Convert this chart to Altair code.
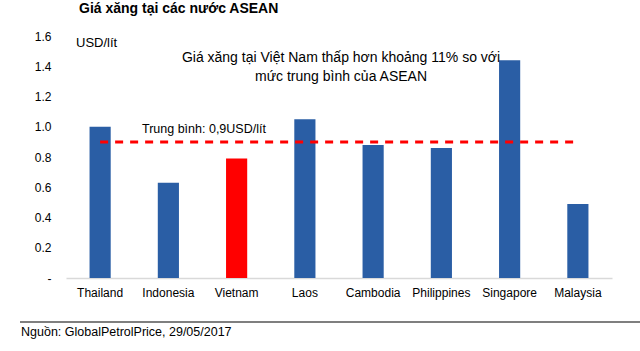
import altair as alt
import pandas as pd

countries = ["Thailand", "Indonesia", "Vietnam", "Laos", "Cambodia", "Philippines", "Singapore", "Malaysia"]
prices = [1.00, 0.63, 0.79, 1.05, 0.88, 0.86, 1.44, 0.49]
bar_colors = ["#2a5ea5", "#2a5ea5", "#ff0000", "#2a5ea5", "#2a5ea5", "#2a5ea5", "#2a5ea5", "#2a5ea5"]
average = 0.9
tick_values = [0, 0.2, 0.4, 0.6, 0.8, 1.0, 1.2, 1.4, 1.6]

title_text = "Giá xăng tại các nước ASEAN"
unit_text = "USD/lít"
note_line1 = "Giá xăng tại Việt Nam thấp hơn khoảng 11% so với"
note_line2 = "mức trung bình của ASEAN"
avg_text = "Trung bình: 0,9USD/lít"
source_text = "Nguồn: GlobalPetrolPrice, 29/05/2017"

FONT = "Liberation Sans"

df = pd.DataFrame({"country": countries, "price": prices, "color": bar_colors})
avg_df = pd.DataFrame({"country": [countries[0], countries[-1]], "price": [average, average]})

xscale = alt.Scale(domain=countries, paddingInner=0.69, paddingOuter=0.345)
yscale = alt.Scale(domain=[0, 1.6], nice=False)

xaxis = alt.Axis(title=None, labelAngle=0, labelFont=FONT, labelFontSize=12,
                 labelColor="#000000", ticks=False, labelPadding=9,
                 domainColor="#d9d9d9", domainWidth=1.5, labelOverlap=False)
yaxis = alt.Axis(title=None, values=tick_values, grid=False, domain=False, ticks=False,
                 labelPadding=15, labelFont=FONT, labelFontSize=12, labelColor="#000000",
                 labelOverlap=False, labelFlush=False,
                 labelExpr="datum.value == 0 ? '-' : format(datum.value, '.1f')")

X = alt.X("country:N", sort=countries, scale=xscale, axis=xaxis)
Y = alt.Y("price:Q", scale=yscale, axis=yaxis)

bars = alt.Chart(df).mark_bar().encode(
    x=X, y=Y,
    color=alt.Color("color:N", scale=None),
)

avg_line = alt.Chart(avg_df).mark_line(color="#ff0000", strokeWidth=3, strokeDash=[8, 7]).encode(
    x=X, y=Y,
)

def txt(text, x, y, size=12, weight="normal", align="left"):
    return alt.Chart(pd.DataFrame({"t": [text]})).mark_text(
        font=FONT, fontSize=size, fontWeight=weight, align=align, baseline="middle",
        color="#000000"
    ).encode(text="t:N", x=alt.value(x), y=alt.value(y))

title = txt(title_text, 13, -27, size=14, weight="bold")
unit = txt(unit_text, 10, 7, size=13)
note1 = txt(note_line1, 275, 22, size=14, align="center")
note2 = txt(note_line2, 275, 41, size=14, align="center")
avg_label = txt(avg_text, 76, 93, size=12.5)
source = txt(source_text, -45, 296, size=12.5)

footer_rule = alt.Chart(pd.DataFrame({"a": [0]})).mark_rule(color="#555555", strokeWidth=1.5).encode(
    x=alt.value(-46), x2=alt.value(574), y=alt.value(286)
)

chart = alt.layer(bars, avg_line, title, unit, note1, note2, avg_label, source, footer_rule).properties(
    width=546, height=242,
    autosize=alt.AutoSizeParams(type="none"),
    padding={"left": 66, "top": 36, "right": 28, "bottom": 73},
    background="#ffffff",
).configure_view(stroke=None)

chart.save("out.html", embed_options={"renderer": "svg", "actions": False})
